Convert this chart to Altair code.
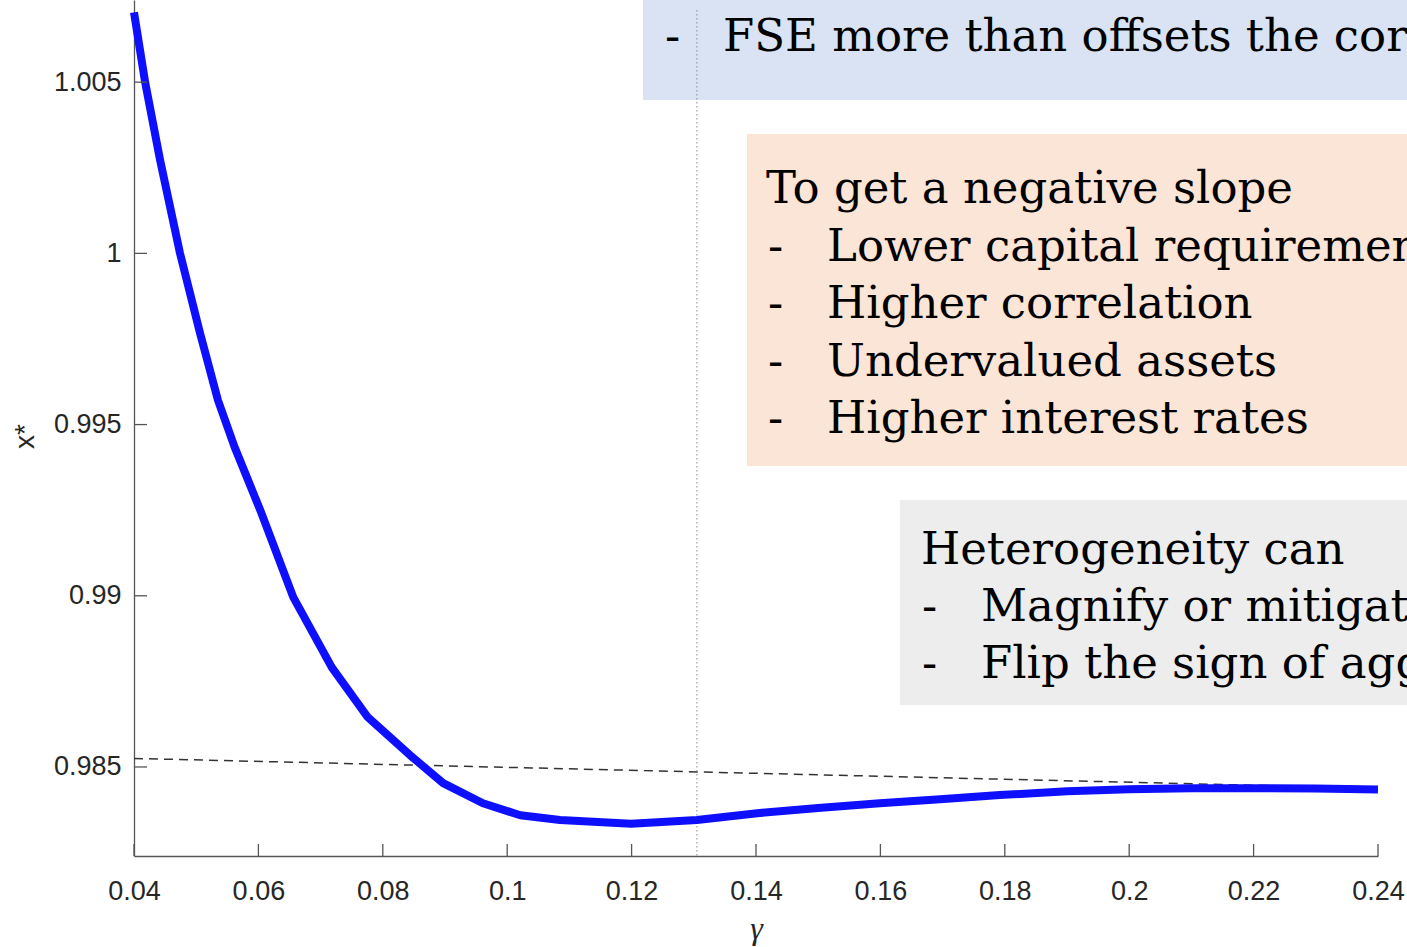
import altair as alt
import pandas as pd

# ---------------- data ----------------
gamma = [0.0400, 0.0418, 0.0442, 0.0474, 0.0506, 0.0535, 0.0562, 0.0603,
         0.0656, 0.0718, 0.0776, 0.0844, 0.0897, 0.0961, 0.1021, 0.1085,
         0.1199, 0.1305, 0.1402, 0.1500, 0.1599, 0.1696, 0.1792, 0.1900,
         0.2000, 0.2099, 0.2199, 0.2300, 0.2400]
xstar = [1.00704, 1.00499, 1.00272, 1.00000, 0.99768, 0.99571, 0.99433,
         0.99250, 0.98996, 0.98791, 0.98645, 0.98534, 0.98453, 0.98394,
         0.98359, 0.98345, 0.98334, 0.98345, 0.98365, 0.98380, 0.98394,
         0.98406, 0.98418, 0.98429, 0.98435, 0.98438, 0.98438, 0.98437,
         0.98434]

ref_gamma = [0.04, 0.24]
ref_xstar = [0.98525, 0.98438]

vline_gamma = 0.1305

x_ticks = [0.04, 0.06, 0.08, 0.10, 0.12, 0.14, 0.16, 0.18, 0.20, 0.22, 0.24]
y_ticks = [0.985, 0.99, 0.995, 1.0, 1.005]

box_fills = ["#DAE3F3", "#FBE5D6", "#EDEDED"]

box1_lines = ["-", "FSE more than offsets the correlation effect"]
box2_lines = ["To get a negative slope", "-", "Lower capital requirements",
              "-", "Higher correlation", "-", "Undervalued assets",
              "-", "Higher interest rates"]
box3_lines = ["Heterogeneity can", "-", "Magnify or mitigate the effect",
              "-", "Flip the sign of aggregate effects"]

# ---------------- layout ----------------
LEFT, TOP, RIGHT, BOTTOM = 134, 0, 29, 91
W, H = 1244, 856
XD = [0.04, 0.24]
YD = [0.9824, 1.0074]


def gx(px):
    return XD[0] + (px - LEFT) / W * (XD[1] - XD[0])


def vy(py):
    return YD[1] - (py - TOP) / H * (YD[1] - YD[0])


AX_COLOR = "#555555"
TXT = "#262626"

X = alt.X("g:Q", scale=alt.Scale(domain=XD, nice=False, zero=False),
          axis=alt.Axis(values=x_ticks, format="~g", title="γ", ticks=False,
                        labelPadding=22, grid=False, labelFlush=False,
                        titleFont="Liberation Serif", titleFontStyle="italic",
                        titleFontSize=32, titleFontWeight="normal",
                        titleColor=TXT, titleX=622, titleY=82,
                        titleBaseline="alphabetic", titleAlign="center"))
Y = alt.Y("v:Q", scale=alt.Scale(domain=YD, nice=False, zero=False),
          axis=alt.Axis(values=y_ticks, format="~g", title="x*", ticks=False,
                        labelPadding=13, grid=False, labelFlush=False,
                        titleFont="Liberation Sans", titleFontSize=28,
                        titleFontWeight="normal", titleColor=TXT,
                        titleAngle=270, titleX=-101, titleY=436,
                        titleBaseline="alphabetic", titleAlign="center"))

# boxes (pixel layout converted to data units)
boxes = pd.DataFrame({
    "g": [gx(643), gx(747), gx(900)],
    "g2": [gx(1500), gx(1500), gx(1500)],
    "v": [vy(-60), vy(134), vy(500)],
    "v2": [vy(100), vy(466), vy(705)],
    "c": box_fills,
})
box_layer = alt.Chart(boxes).mark_rect(clip=False).encode(
    x=X, x2=alt.X2("g2:Q"), y=Y, y2=alt.Y2("v2:Q"),
    color=alt.Color("c:N", scale=None))

# text rows
tx = [665, 723,
      766, 768, 827, 768, 827, 768, 827, 768, 827,
      921, 922, 981, 922, 981]
ty = [51, 51,
      203, 261, 261, 318, 318, 376, 376, 433, 433,
      564, 621, 621, 678, 678]
texts = pd.DataFrame({
    "g": [gx(p) for p in tx],
    "v": [vy(p) for p in ty],
    "t": box1_lines + box2_lines + box3_lines,
})
text_layer = alt.Chart(texts).mark_text(
    align="left", baseline="alphabetic", font="DejaVu Serif",
    fontSize=45, color="black", clip=False).encode(x=X, y=Y, text="t:N")

ref = pd.DataFrame({"g": ref_gamma, "v": ref_xstar})
ref_layer = alt.Chart(ref).mark_line(
    color="#333333", strokeWidth=1.5, strokeDash=[9, 6]).encode(x=X, y=Y)

vline = pd.DataFrame({"g": [vline_gamma], "v": [vy(10)], "v2": [YD[0]]})
vline_layer = alt.Chart(vline).mark_rule(
    color="#8a8a8a", strokeWidth=1, strokeDash=[1.5, 2.5]).encode(
    x=X, y=Y, y2=alt.Y2("v2:Q"))

curve = pd.DataFrame({"g": gamma, "v": xstar})
curve_layer = alt.Chart(curve).mark_line(
    color="#0f0fff", strokeWidth=8, strokeCap="butt",
    strokeJoin="round").encode(x=X, y=Y)

xt = pd.DataFrame({"g": x_ticks})
xtick_layer = alt.Chart(xt).mark_rule(color=AX_COLOR, strokeWidth=1.3).encode(
    x=X, y=alt.value(H - 12), y2=alt.value(H))

yt = pd.DataFrame({"v": y_ticks})
ytick_layer = alt.Chart(yt).mark_rule(color=AX_COLOR, strokeWidth=1.3).encode(
    y=Y, x=alt.value(0), x2=alt.value(13))

chart = alt.layer(
    box_layer, ref_layer, vline_layer, curve_layer,
    xtick_layer, ytick_layer, text_layer
).properties(
    width=W, height=H,
    autosize=alt.AutoSizeParams(type="none"),
    padding={"left": LEFT, "top": TOP, "right": RIGHT, "bottom": BOTTOM},
    background="white",
).configure_view(strokeWidth=0).configure_axis(
    domainColor=AX_COLOR, domainWidth=1.3,
    labelFont="Liberation Sans", labelFontSize=27, labelColor=TXT,
)

chart.save("out.html", embed_options={"renderer": "svg", "actions": False})
